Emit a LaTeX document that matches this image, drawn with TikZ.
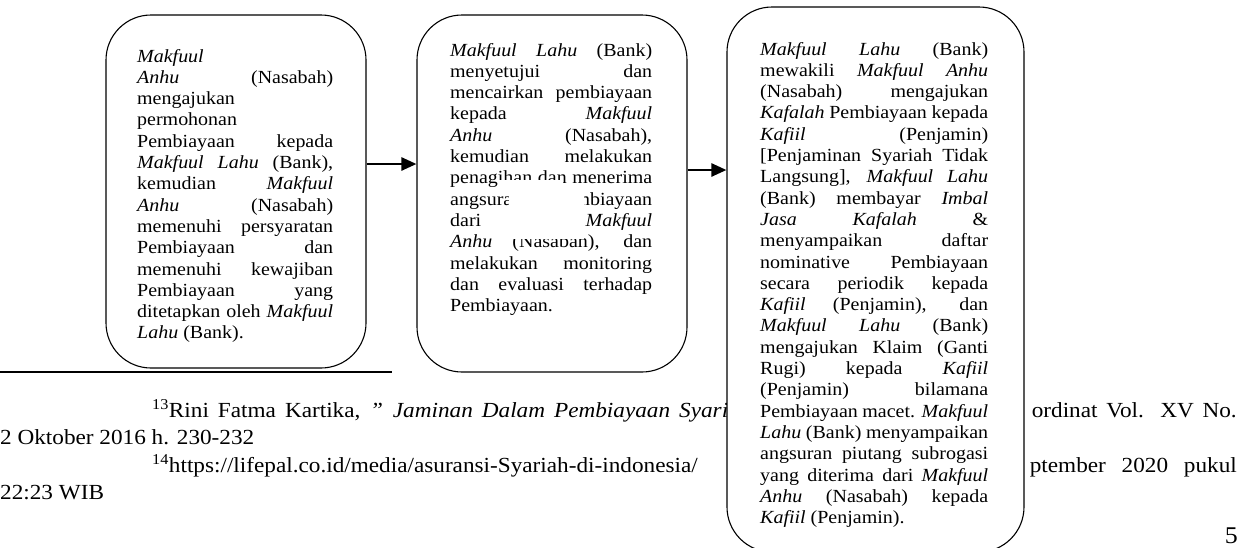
\documentclass[tikz,border=0pt]{standalone}
\usepackage{fontspec}
\setmainfont{Liberation Serif}[FakeStretch=1.08]
\usetikzlibrary{arrows.meta}

% one justified line / one left-aligned line of a text column
\newcommand\jline[1]{\makebox[\linewidth][s]{#1}\par}
\newcommand\lline[1]{\makebox[\linewidth][l]{#1}\par}
\newcommand\boxfont{\fontsize{18.5}{21.3}\selectfont}
\newcommand\notefont{\fontsize{21.5}{27}\selectfont}
\newcommand\column[2]{\parbox[t]{#1}{\boxfont\setlength\parindent{0pt}\setlength\parskip{0pt}#2}}

\tikzset{
  stagebox/.style={draw=black, line width=1.1pt, fill=white, rounded corners=45pt,
                   inner sep=0pt, rectangle},
  coltext/.style={anchor=base west, inner sep=0pt, text=black},
  notetext/.style={anchor=base west, inner sep=0pt, font=\notefont},
  flow/.style={line width=2.5pt, -{Triangle[length=15pt,width=13pt]}},
}

\begin{document}
\begin{tikzpicture}[x=1pt, y=-1pt]
\useasboundingbox (0,0) rectangle (1251,547);
\fill[white] (0,0) rectangle (1251,547);
\begin{scope}
\clip (0,0) rectangle (1251,547);

% footnote separator and footnotes
\draw[line width=1.5pt] (0,372) -- (392,372);
\node[notetext] (f1a) at (152,417)
  {\makebox[576pt][s]{\textsuperscript{13}Rini Fatma Kartika, \textit{” Jaminan Dalam Pembiayaan Syari}}};
\node[notetext, anchor=base east] (f1b) at (1237,417) {\makebox[205pt][s]{ordinat Vol. XV No.}};
\node[notetext] (f2) at (0,444) {2 Oktober 2016 h. 230-232};
\node[notetext] (f3a) at (152,472) {\textsuperscript{14}https://lifepal.co.id/media/asuransi-Syariah-di-indonesia/};
\node[notetext, anchor=base east] (f3b) at (1237,472) {\makebox[207pt][s]{ptember 2020 pukul}};
\node[notetext] (f4) at (0,499) {22:23 WIB};
\node[anchor=base east, inner sep=0pt, font=\fontsize{24}{26}\selectfont] (pg) at (1238,543) {5};

% the three stages
\node[stagebox, minimum width=260pt, minimum height=353pt] (b1) at (236,191.5) {};
\node[stagebox, minimum width=270pt, minimum height=357pt] (b2) at (552,193.5) {};
\node[stagebox, minimum width=297pt, minimum height=545pt] (b3) at (875.5,279.5) {};

\node[coltext] (t1) at (137,62) {\column{196pt}{%
\lline{\textit{Makfuul}}
\jline{\textit{Anhu} (Nasabah)}
\lline{mengajukan}
\lline{permohonan}
\jline{Pembiayaan kepada}
\jline{\textit{Makfuul Lahu} (Bank),}
\jline{kemudian \textit{Makfuul}}
\jline{\textit{Anhu} (Nasabah)}
\jline{memenuhi persyaratan}
\jline{Pembiayaan dan}
\jline{memenuhi kewajiban}
\jline{Pembiayaan yang}
\jline{ditetapkan oleh \textit{Makfuul}}
\lline{\textit{Lahu} (Bank).}}};

\node[coltext] (t2) at (450,56) {\column{202pt}{%
\jline{\textit{Makfuul Lahu} (Bank)}
\jline{menyetujui dan}
\jline{mencairkan pembiayaan}
\jline{kepada \textit{Makfuul}}
\jline{\textit{Anhu} (Nasabah),}
\jline{kemudian melakukan}
\jline{penagihan dan menerima}
\jline{angsuran Pembiayaan}
\jline{dari \textit{Makfuul}}
\jline{\textit{Anhu} (Nasabah), dan}
\jline{melakukan monitoring}
\jline{dan evaluasi terhadap}
\lline{Pembiayaan.}}};

% white patch lying over part of the middle column
\fill[white] (498,180) rectangle (563,190);
\fill[white] (509,188) rectangle (584,239);

\node[coltext] (t3) at (760,55) {\column{228pt}{%
\jline{\textit{Makfuul Lahu} (Bank)}
\jline{mewakili \textit{Makfuul Anhu}}
\jline{(Nasabah) mengajukan}
\jline{\textit{Kafalah} Pembiayaan kepada}
\jline{\textit{Kafiil} (Penjamin)}
\jline{[Penjaminan Syariah Tidak}
\jline{Langsung], \textit{Makfuul Lahu}}
\jline{(Bank) membayar \textit{Imbal}}
\jline{\textit{Jasa Kafalah} \&}
\jline{menyampaikan daftar}
\jline{nominative Pembiayaan}
\jline{secara periodik kepada}
\jline{\textit{Kafiil} (Penjamin), dan}
\jline{\textit{Makfuul Lahu} (Bank)}
\jline{mengajukan Klaim (Ganti}
\jline{Rugi) kepada \textit{Kafiil}}
\jline{(Penjamin) bilamana}
\jline{Pembiayaan macet. \textit{Makfuul}}
\jline{\textit{Lahu} (Bank) menyampaikan}
\jline{angsuran piutang subrogasi}
\jline{yang diterima dari \textit{Makfuul}}
\jline{\textit{Anhu} (Nasabah) kepada}
\lline{\textit{Kafiil} (Penjamin).}}};

% flow between stages
\draw[flow] ([yshift=27.5pt]b1.east) -- ([yshift=27.5pt]b1.east -| b2.west);
\draw[flow] ([yshift=23.5pt]b2.east) -- ([yshift=23.5pt]b2.east -| b3.west);
\end{scope}
\end{tikzpicture}
\end{document}
